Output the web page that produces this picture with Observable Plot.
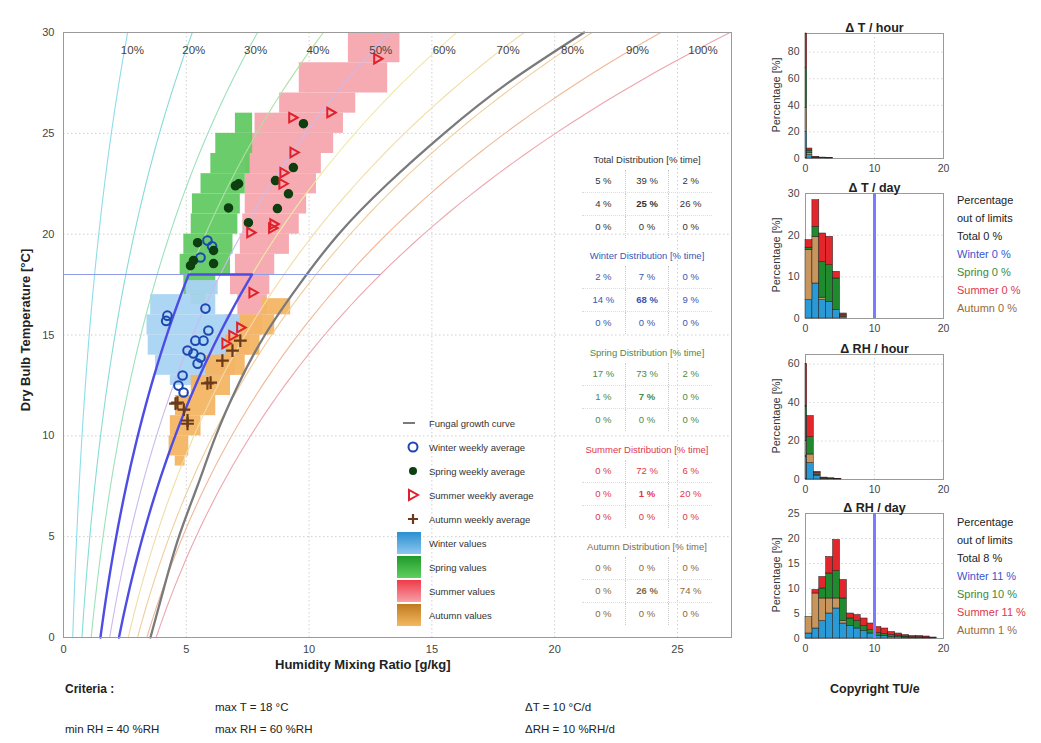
<!DOCTYPE html>
<html><head><meta charset="utf-8">
<script src="https://cdn.jsdelivr.net/npm/d3@7"></script>
<script src="https://cdn.jsdelivr.net/npm/@observablehq/plot@0.6"></script>
<style>
body{margin:0;background:#fff;font-family:"Liberation Sans",Arial,sans-serif;color:#222;}
#root{position:relative;width:1041px;height:743px;overflow:hidden;background:#fff;}
.abs{position:absolute;white-space:nowrap;}
.tbl{position:absolute;left:582px;width:130px;font-size:9.5px;}
.tbl .ttl{height:20px;line-height:20px;text-align:center;}
.tbl .row{display:flex;height:22px;line-height:22px;}
.tbl .row span{width:43px;text-align:center;}
.tbl .row span.c0,.tbl .row span.c1{border-right:1px dotted #ccc;}
.tbl .row.r0,.tbl .row.r1{border-bottom:1px dotted #ddd;}
.leg{position:absolute;left:395px;font-size:9.5px;color:#333;}
.leg div{height:24px;display:flex;align-items:center;}
.leg svg{width:28px;height:24px;margin-right:6px;flex:none;}
.pct{position:absolute;left:957px;font-size:11px;line-height:18px;}
.ylab{position:absolute;font-size:11px;color:#333;white-space:nowrap;transform:translate(-50%,-50%) rotate(-90deg);}
</style></head><body><div id="root"></div>
<script>
// ---------------- DATA ----------------
const rhLevels = [10,20,30,40,50,60,70,80,90,100];
const rhColors = ["#8edde9","#86dcd8","#9ce2bb","#b0e0a6","#cbbaee","#efeaa6","#f2dda6","#f0cd9c","#efb998","#eda6ae"];
const rhLabels = ["10%","20%","30%","40%","50%","60%","70%","80%","90%","100%"];
const rhLabelT = 29.1;

// fungal growth curve: temperature [°C] / mixing ratio [g/kg]
const fungalT = [0,2.5,5,7.5,10,12.5,15,17.5,20,22.5,25,27.5,30];
const fungalW = [3.54,4.1,4.7,5.45,6.2,7.1,8.2,9.6,11.2,13.2,15.5,18.1,21.2];

// criteria
const critMinRH = 40, critMaxRH = 60, critMaxT = 18;
const dTLimit = 10, dRHLimit = 10;

// seasonal value clouds: [T low, T high, w low, w high]
const summerCells = [[28.5,30,11.6,13.7],[27,28.5,9.6,13.2],[26,27,8.8,11.9],[25,26,7.8,11.4],[24,25,7.6,11.0],[23,24,7.4,10.5],[22,23,7.4,10.3],[21,22,7.4,9.9],[20,21,7.3,9.6],[19,20,7.2,9.2],[18,19,7.0,8.6],[17,18,6.8,8.4],[16,17,7.1,8.3],[15,16,6.6,8.1],[14,15,6.2,7.6],[13,14,6.0,7.0]];
const springCells = [[25,26,7.0,7.7],[24,25,6.2,7.7],[23,24,6.0,7.6],[22,23,5.6,7.4],[21,22,5.25,7.2],[20,21,5.2,7.1],[19,20,4.9,6.9],[18,19,4.75,6.8],[17,18,4.9,6.2],[16.5,17,5.2,5.8]];
const winterCells = [[17,17.7,5.0,6.3],[16,17,3.55,6.2],[15,16,3.4,7.2],[14,15,3.45,7.2],[13,14,3.75,6.2],[12.5,13,4.35,5.6]];
const autumnCells = [[16,16.8,8.1,9.25],[15,16,7.2,8.6],[14,15,6.6,8.0],[13,14,5.8,7.4],[12,13,5.2,6.8],[11,12,4.56,6.2],[10,11,4.35,5.6],[9,10,4.3,5.1],[8.5,9,4.55,4.95]];

// weekly averages [w g/kg, T °C]
const winterAvg = [[5.86,19.68],[6.05,19.4],[5.58,18.84],[5.78,16.31],[4.23,15.96],[4.18,15.7],[5.9,15.22],[5.7,14.72],[5.37,14.72],[5.05,14.23],[5.29,14.08],[5.58,13.88],[5.46,13.58],[4.85,12.99],[4.68,12.49],[4.89,12.15]];
const springAvg = [[9.77,25.48],[9.36,23.3],[8.63,22.66],[9.16,22.0],[8.71,21.27],[7.13,22.5],[7.0,22.4],[6.72,21.3],[7.53,20.57],[5.46,19.58],[6.11,19.19],[5.29,18.69],[6.11,18.54],[5.17,18.44]];
const summerAvg = [[12.78,28.7],[10.87,26.03],[9.32,25.78],[9.37,24.05],[8.96,23.05],[8.92,22.5],[8.55,20.5],[8.5,20.3],[7.61,20.08],[7.7,17.1],[7.2,15.37],[6.6,14.58],[6.88,14.97]];
const autumnAvg = [[6.47,13.73],[6.88,14.23],[7.2,14.72],[5.99,12.64],[4.56,11.6],[4.64,11.65],[5.05,10.76],[5.05,10.6],[5.86,12.6],[4.9,11.3]];

// distributions [% time]
const tableTitles = ["Total Distribution [% time]","Winter Distribution [% time]","Spring Distribution [% time]","Summer Distribution [% time]","Autumn Distribution [% time]"];
const totalDist = [[5,39,2],[4,25,26],[0,0,0]];
const winterDist = [[2,7,0],[14,68,9],[0,0,0]];
const springDist = [[17,73,2],[1,7,0],[0,0,0]];
const summerDist = [[0,72,6],[0,1,20],[0,0,0]];
const autumnDist = [[0,0,0],[0,26,74],[0,0,0]];

// histograms (stack order: Winter, Autumn, Spring, Summer)
const seasons = ["Winter","Autumn","Spring","Summer"];
const seasonFill = ["#2a9ad6","#c8955c","#1f8a2e","#e3262b"];

const dtHourBins = [[0,0.25],[0.25,1],[1,2],[2,3],[3,4]];
const dtHourWinter = [20,2.5,0.4,0.2,0.1];
const dtHourAutumn = [18,1.5,0.2,0.1,0];
const dtHourSpring = [30,2,0.4,0.2,0.1];
const dtHourSummer = [26,1.5,0.3,0.2,0.1];

const dtDayBins = [[0,1],[1,2],[2,3],[3,4],[4,5],[5,6]];
const dtDayWinter = [4.4,8.4,4.4,4.0,2.0,0.3];
const dtDayAutumn = [12.1,11.2,0.6,0,0,0.2];
const dtDaySpring = [0.5,2.4,8.6,8.8,7.6,0.3];
const dtDaySummer = [1.8,6.4,6.8,6.8,1.6,0.4];

const drhHourBins = [[0,0.25],[0.25,1.2],[1.2,2.2],[2.2,3.2],[3.2,4.2],[4.2,5.2]];
const drhHourWinter = [12,8.5,2,0.3,0.2,0.1];
const drhHourAutumn = [8,4.5,0.5,0.2,0.1,0];
const drhHourSpring = [18,9,0.8,0.3,0.2,0.1];
const drhHourSummer = [22,11,0.7,0.2,0.1,0.1];

const drhDayBins = [[0,1],[1,2],[2,3],[3,4],[4,5],[5,6],[6,7],[7,8],[8,9],[9,10],[10,11],[11,12],[12,13],[13,14],[14,15],[15,16],[16,17],[17,18],[18,19]];
const drhDayWinter = [1,2,3.5,5,6,3,2.5,2,1.5,1,0.5,0.5,0.3,0.3,0.2,0.1,0.1,0.1,0.05];
const drhDayAutumn = [3.3,7,4.5,3,2,0.5,0,0,0,0,0,0,0,0,0,0,0,0,0];
const drhDaySpring = [0,0,2,5,5.5,4.5,1.5,1.5,1,0.7,0.6,0.4,0.4,0.3,0.2,0.2,0.2,0.1,0.05];
const drhDaySummer = [0,0.7,2.3,3.3,6.2,3.7,1,1.2,1.5,1.3,1.2,1.1,0.6,0.4,0.3,0.2,0.2,0.2,0.1];

const outDay = ["Total 0 %","Winter 0 %","Spring 0 %","Summer 0 %","Autumn 0 %"];
const outRHDay = ["Total 8 %","Winter 11 %","Spring 10 %","Summer 11 %","Autumn 1 %"];

// ---------------- HELPERS ----------------
const root = document.getElementById("root");
const FONT = '"Liberation Sans", Arial, sans-serif';
const psat = T => 610.94 * Math.exp(17.625 * T / (T + 243.04));
const mix = (rh, T) => { const e = rh / 100 * psat(T); return 622 * e / (101325 - e); };
const Tsteps = d3.range(0, 30.001, 0.5);

function place(el, left, top) { el.style.position = "absolute"; el.style.left = left + "px"; el.style.top = top + "px"; root.appendChild(el); return el; }
function div(cls, html, left, top, style) { const d = document.createElement("div"); d.className = cls; d.innerHTML = html; d.style.left = left + "px"; d.style.top = top + "px"; if (style) Object.assign(d.style, style); root.appendChild(d); return d; }

const triRight = { draw(ctx, size) { const r = Math.sqrt(size / Math.PI) * 1.15; ctx.moveTo(r, 0); ctx.lineTo(-r * 0.6, r * 0.9); ctx.lineTo(-r * 0.6, -r * 0.9); ctx.closePath(); } };

// ---------------- MAIN CHART ----------------
const cellMark = (cells, fill) => Plot.rect(cells, { y1: d => d[0], y2: d => d[1], x1: d => d[2], x2: d => d[3], fill, fillOpacity: 0.95 });
const rhMarks = rhLevels.map((rh, i) => Plot.line(Tsteps.map(T => ({ w: mix(rh, T), T })), { x: "w", y: "T", stroke: rhColors[i], strokeWidth: 1.1 }));
const critPath = [...Tsteps.filter(T => T <= critMaxT).map(T => ({ w: mix(critMinRH, T), T })), ...Tsteps.filter(T => T <= critMaxT).reverse().map(T => ({ w: mix(critMaxRH, T), T }))];
const fungal = fungalT.map((T, i) => ({ T, w: fungalW[i] }));
const labels = rhLevels.map((rh, i) => ({ w: mix(rh, rhLabelT), T: rhLabelT, text: rhLabels[i] }));

const main = Plot.plot({
  width: 745, height: 680,
  marginLeft: 63, marginRight: 14, marginTop: 32, marginBottom: 43,
  style: { fontFamily: FONT, fontSize: "11px", color: "#444", background: "transparent", overflow: "visible" },
  x: { domain: [0, 27.2], ticks: [0, 5, 10, 15, 20, 25], tickSize: 0, tickPadding: 8, label: null },
  y: { domain: [0, 30], ticks: [0, 5, 10, 15, 20, 25, 30], tickSize: 0, tickPadding: 9, label: null },
  marks: [
    Plot.ruleX([5, 10, 15, 20, 25], { stroke: "#cfcfcf", strokeDasharray: "1.5,2.5" }),
    Plot.ruleY([5, 10, 15, 20, 25], { stroke: "#cfcfcf", strokeDasharray: "1.5,2.5" }),
    cellMark(summerCells, "#f6a6ae"),
    cellMark(springCells, "#62c962"),
    cellMark(winterCells, "#a9d3f3"),
    cellMark(autumnCells, "#f3b563"),
    ...rhMarks,
    Plot.line(fungal, { x: "w", y: "T", stroke: "#7a7a7a", strokeWidth: 2.3, curve: "natural" }),
    Plot.ruleY([critMaxT], { x1: 0, x2: mix(100, critMaxT), stroke: "#8f9ce8", strokeWidth: 1.2 }),
    Plot.line(critPath, { x: "w", y: "T", stroke: "#4d4de6", strokeWidth: 2.4 }),
    Plot.dot(winterAvg, { x: d => d[0], y: d => d[1], r: 4.3, stroke: "#1b48b0", strokeWidth: 2, fill: "none" }),
    Plot.dot(springAvg, { x: d => d[0], y: d => d[1], r: 4, fill: "#0e3f10", stroke: "#0e3f10" }),
    Plot.dot(summerAvg, { x: d => d[0], y: d => d[1], r: 4.6, symbol: triRight, stroke: "#e0202a", strokeWidth: 2, fill: "none" }),
    Plot.dot(autumnAvg, { x: d => d[0], y: d => d[1], r: 4.2, symbol: "plus", stroke: "#6a3a1a", strokeWidth: 2.2 }),
    Plot.text(labels, { x: "w", y: "T", text: "text", dx: 8, fontSize: 11.5, fill: "#444" }),
    Plot.frame({ stroke: "#9a9a9a" })
  ]
});
place(main, 0, 0);

// axis labels
div("abs", "Humidity Mixing Ratio [g/kg]", 275, 657, { fontSize: "13px", fontWeight: "bold", color: "#222" });
div("abs", "Dry Bulb Temperature [°C]", 25, 330, { fontSize: "13px", fontWeight: "bold", color: "#222", transform: "translate(-50%,-50%) rotate(-90deg)" });

// legend
const legItems = [
  ['<line x1="8" x2="20" y1="12" y2="12" stroke="#7a7a7a" stroke-width="2"/>', "Fungal growth curve"],
  ['<circle cx="18" cy="12" r="4.5" fill="none" stroke="#1b48b0" stroke-width="2"/>', "Winter weekly average"],
  ['<circle cx="18" cy="12" r="4" fill="#0e3f10"/>', "Spring weekly average"],
  ['<path d="M23,12 L14,17 L14,7 Z" fill="none" stroke="#e0202a" stroke-width="2"/>', "Summer weekly average"],
  ['<path d="M18,7 V17 M13,12 H23" stroke="#6a3a1a" stroke-width="2.2"/>', "Autumn weekly average"],
  ['<defs><linearGradient id="gw" x1="0" y1="0" x2="0" y2="1"><stop offset="0" stop-color="#2a8fd0"/><stop offset="1" stop-color="#8cc6ee"/></linearGradient></defs><rect x="2" y="1" width="24" height="22" fill="url(#gw)"/>', "Winter values"],
  ['<defs><linearGradient id="gs" x1="0" y1="0" x2="0" y2="1"><stop offset="0" stop-color="#1f9a2a"/><stop offset="1" stop-color="#5fcf5f"/></linearGradient></defs><rect x="2" y="1" width="24" height="22" fill="url(#gs)"/>', "Spring values"],
  ['<defs><linearGradient id="gu" x1="0" y1="0" x2="0" y2="1"><stop offset="0" stop-color="#ee3a48"/><stop offset="1" stop-color="#f7a0a8"/></linearGradient></defs><rect x="2" y="1" width="24" height="22" fill="url(#gu)"/>', "Summer values"],
  ['<defs><linearGradient id="ga" x1="0" y1="0" x2="0" y2="1"><stop offset="0" stop-color="#c07a20"/><stop offset="1" stop-color="#f4b860"/></linearGradient></defs><rect x="2" y="1" width="24" height="22" fill="url(#ga)"/>', "Autumn values"]
];
div("leg", legItems.map(([svg, t]) => `<div><svg viewBox="0 0 28 24">${svg}</svg>${t}</div>`).join(""), 395, 411);

// tables
const tables = [totalDist, winterDist, springDist, summerDist, autumnDist];
const tableColors = ["#333", "#3a55b5", "#4a8a4a", "#e0384a", "#8a6a3a"];
const tableTops = [150, 246, 343, 440, 537];
tables.forEach((t, k) => {
  const html = `<div class="ttl">${tableTitles[k]}</div>` + t.map((row, r) =>
    `<div class="row r${r}">` + row.map((v, c) => `<span class="c${c}" style="${r === 1 && c === 1 ? 'font-weight:bold' : ''}">${v} %</span>`).join("") + `</div>`).join("");
  div("tbl", html, 582, tableTops[k], { color: tableColors[k] });
});

// ---------------- HISTOGRAMS ----------------
function hist(bins, series, yMax, yTicks, title, limit) {
  const data = [];
  series.forEach((vals, si) => bins.forEach((b, i) => data.push({ x1: b[0], x2: b[1], y: vals[i], season: seasons[si] })));
  const marks = [
    Plot.ruleX([10], { stroke: "#d6d6d6", strokeDasharray: "1.5,2.5" }),
    Plot.ruleY(yTicks.filter(v => v > 0), { stroke: "#d6d6d6", strokeDasharray: "1.5,2.5" }),
    Plot.frame({ stroke: "#9a9a9a" }),
    Plot.rectY(data, { x1: "x1", x2: "x2", y: "y", fill: "season", stroke: "#1a1a1a", strokeWidth: 0.5 })
  ];
  if (limit != null) marks.push(Plot.ruleX([limit], { stroke: "#7b7bff", strokeWidth: 3 }));
  marks.push(Plot.text([title], { text: d => d, frameAnchor: "top", dy: -10, fontSize: 12.5, fontWeight: "bold", fill: "#222" }));
  return Plot.plot({
    width: 190, height: 167, marginLeft: 45, marginRight: 7, marginTop: 22, marginBottom: 20,
    style: { fontFamily: FONT, fontSize: "10.5px", color: "#444", background: "transparent", overflow: "visible" },
    x: { domain: [0, 20], ticks: [0, 10, 20], tickSize: 0, tickPadding: 6, label: null },
    y: { domain: [0, yMax], ticks: yTicks, tickSize: 0, tickPadding: 6, label: null },
    color: { domain: seasons, range: seasonFill },
    marks
  });
}
const panelTops = [11, 171, 332, 491];
place(hist(dtHourBins, [dtHourWinter, dtHourAutumn, dtHourSpring, dtHourSummer], 94, [0, 20, 40, 60, 80], "Δ T / hour", null), 760, panelTops[0]);
place(hist(dtDayBins, [dtDayWinter, dtDayAutumn, dtDaySpring, dtDaySummer], 30, [0, 10, 20, 30], "Δ T / day", dTLimit), 760, panelTops[1]);
place(hist(drhHourBins, [drhHourWinter, drhHourAutumn, drhHourSpring, drhHourSummer], 65, [0, 20, 40, 60], "Δ RH / hour", null), 760, panelTops[2]);
place(hist(drhDayBins, [drhDayWinter, drhDayAutumn, drhDaySpring, drhDaySummer], 25, [0, 5, 10, 15, 20, 25], "Δ RH / day", dRHLimit), 760, panelTops[3]);
panelTops.forEach(t => div("ylab", "Percentage [%]", 776, t + 22 + 62));

// out-of-limit texts
const outColors = ["#222", "#3a55d0", "#3a8a3a", "#e0384a", "#9a6a3a"];
const outHtml = arr => `<div>Percentage</div><div>out of limits</div>` + arr.map((t, i) => `<div style="color:${outColors[i]}">${t}</div>`).join("");
div("pct", outHtml(outDay), 957, 191);
div("pct", outHtml(outRHDay), 957, 513);

// bottom texts
div("abs", "Criteria :", 65, 682, { fontSize: "12px", fontWeight: "bold" });
div("abs", "max T = 18 °C", 215, 701, { fontSize: "11.5px" });
div("abs", "min RH = 40 %RH", 65, 723, { fontSize: "11.5px" });
div("abs", "max RH = 60 %RH", 215, 723, { fontSize: "11.5px" });
div("abs", "ΔT = 10 °C/d", 525, 701, { fontSize: "11.5px" });
div("abs", "ΔRH = 10 %RH/d", 525, 723, { fontSize: "11.5px" });
div("abs", "Copyright TU/e", 830, 682, { fontSize: "12.5px", fontWeight: "bold" });
</script>
</body></html>
